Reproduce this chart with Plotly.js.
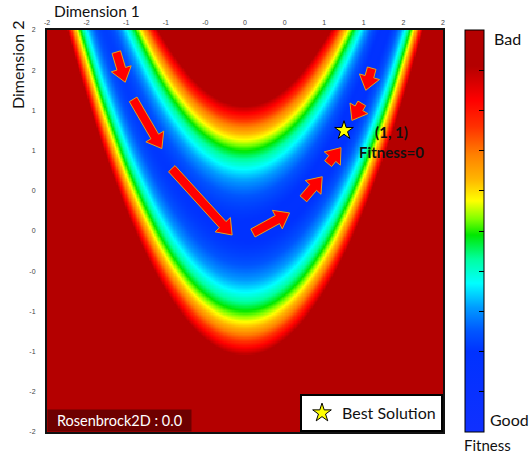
<!DOCTYPE html>
<html><head><meta charset="utf-8">
<script src="https://cdn.plot.ly/plotly-3.0.1.min.js"></script>
<style>html,body{margin:0;padding:0;background:#fff;} #chart{width:529px;height:454px;}</style>
</head><body><div id="chart"></div>
<script>
// Axis ticks (values and their printed labels, as shown in the picture)
const tickVals = [-2, -1.6, -1.2, -0.8, -0.4, 0, 0.4, 0.8, 1.2, 1.6, 2];
const tickLabels = ['-2', '-2', '-1', '-1', '-0', '0', '0', '1', '1', '2', '2'];

// Best solution marker
const bestX = [1];
const bestY = [1];
const bestName = 'Best Solution';

// Search-path arrows (tail -> tip), in data units
const arrowTailX = [-1.30, -1.13, -0.74, 0.08, 0.59, 0.84, 1.28, 1.18];
const arrowTailY = [1.78, 1.31, 0.62, -0.02, 0.32, 0.67, 1.62, 1.27];
const arrowTipX  = [-1.21, -0.84, -0.13, 0.45, 0.78, 0.97, 1.22, 1.08];
const arrowTipY  = [1.48, 0.82, -0.04, 0.18, 0.54, 0.83, 1.40, 1.10];

// Fitness landscape: Rosenbrock 2D, f(x,y) = (1-x)^2 + 100 (y-x^2)^2, on the plotted square
const gridX = [];
const gridY = [];
const gridN = 300;
for (let i = 0; i <= gridN; i++) { gridX.push(-2 + 4 * i / gridN); gridY.push(-2 + 4 * i / gridN); }
const fitness = gridY.map(y => gridX.map(x => (1 - x) * (1 - x) + 100 * (y - x * x) * (y - x * x)));

const zMin = -41, zMax = 174;
const colorScale = [
  [0.00, '#1030FF'], [0.20, '#0032FF'], [0.25, '#0055FF'], [0.31, '#009CFF'],
  [0.37, '#00FFFF'], [0.43, '#00FFA0'], [0.49, '#00E800'], [0.53, '#80FF00'],
  [0.575, '#FFFF00'], [0.63, '#FFB400'], [0.69, '#FF8000'], [0.76, '#FF3000'],
  [0.825, '#FF0000'], [0.91, '#B40000'], [1.00, '#B40000']
];
const cbTickFrac = [0.1, 0.2, 0.3, 0.4, 0.5, 0.6, 0.7, 0.8, 0.9];

const traces = [];
traces.push({
  type: 'heatmap', x: gridX, y: gridY, z: fitness,
  zmin: zMin, zmax: zMax, colorscale: colorScale, zsmooth: false,
  hoverinfo: 'skip',
  colorbar: {
    x: 1.0556, xanchor: 'left', xpad: 0, ypad: 0, y: 0.5, yanchor: 'middle',
    len: 1, thickness: 19, outlinewidth: 1, outlinecolor: '#000',
    tickmode: 'array', tickvals: cbTickFrac.map(f => zMin + f * (zMax - zMin)),
    ticks: 'inside', ticklen: 5, tickwidth: 1, tickcolor: '#000', showticklabels: false
  }
});

// arrow geometry (style)
const shaftHalf = 0.045, headHalf = 0.105, headLen = 0.14;
for (let k = 0; k < arrowTailX.length; k++) {
  const x0 = arrowTailX[k], y0 = arrowTailY[k], x1 = arrowTipX[k], y1 = arrowTipY[k];
  const dx = x1 - x0, dy = y1 - y0, L = Math.hypot(dx, dy);
  const ux = dx / L, uy = dy / L, px = -uy, py = ux;
  const nx = x1 - ux * headLen, ny = y1 - uy * headLen;
  const xs = [x0 + px * shaftHalf, nx + px * shaftHalf, nx + px * headHalf, x1,
              nx - px * headHalf, nx - px * shaftHalf, x0 - px * shaftHalf, x0 + px * shaftHalf];
  const ys = [y0 + py * shaftHalf, ny + py * shaftHalf, ny + py * headHalf, y1,
              ny - py * headHalf, ny - py * shaftHalf, y0 - py * shaftHalf, y0 + py * shaftHalf];
  traces.push({type: 'scatter', mode: 'lines', x: xs, y: ys, fill: 'toself',
    fillcolor: '#FF0000', line: {color: '#E3A21A', width: 1}, showlegend: false, hoverinfo: 'skip'});
}

traces.push({
  type: 'scatter', mode: 'markers', x: bestX, y: bestY, name: bestName,
  marker: {symbol: 'star', size: 14, color: '#FFFF00', line: {color: '#000', width: 1}},
  showlegend: true
});

const F = 'Lato, "Open Sans", sans-serif';
const axisCommon = {
  range: [-2, 2], tickmode: 'array', tickvals: tickVals, ticktext: tickLabels,
  tickfont: {family: 'Liberation Sans, Arial, sans-serif', size: 7, color: '#444'},
  showgrid: false, zeroline: false, showline: true, linecolor: '#111', linewidth: 2, mirror: true
};

const layout = {
  width: 529, height: 454,
  margin: {l: 47, r: 86, t: 30, b: 22},
  paper_bgcolor: '#fff', plot_bgcolor: '#fff',
  font: {family: F, color: '#111'},
  xaxis: Object.assign({}, axisCommon, {side: 'top', ticks: ''}),
  yaxis: Object.assign({}, axisCommon, {ticks: 'outside', tickcolor: 'rgba(0,0,0,0)', ticklen: 8}),
  showlegend: true,
  legend: {x: 1, xanchor: 'right', y: 0, yanchor: 'bottom', bgcolor: '#fff',
    bordercolor: '#000', borderwidth: 2, font: {family: F, size: 16, color: '#111'}},
  shapes: cbTickFrac.map(f => ({type: 'line', xref: 'paper', yref: 'paper',
    x0: 1.0556, x1: 1.0556 + 5 / 396, y0: f, y1: f, line: {color: '#000', width: 1}})),
  annotations: [
    {text: 'Dimension 1', xref: 'paper', yref: 'paper', x: 0.0126, y: 1.047, xanchor: 'left', yanchor: 'middle',
     showarrow: false, font: {family: F, size: 15.5, color: '#111'}},
    {text: 'Dimension 2', xref: 'paper', yref: 'paper', x: -0.073, y: 0.913, xanchor: 'center', yanchor: 'middle',
     textangle: -90, showarrow: false, font: {family: F, size: 16, color: '#111'}},
    {text: 'Bad', xref: 'paper', yref: 'paper', x: 1.1237, y: 0.98, xanchor: 'left', yanchor: 'middle',
     showarrow: false, font: {family: F, size: 16, color: '#111'}},
    {text: 'Good', xref: 'paper', yref: 'paper', x: 1.1136, y: 0.032, xanchor: 'left', yanchor: 'middle',
     showarrow: false, font: {family: F, size: 16, color: '#111'}},
    {text: 'Fitness', xref: 'paper', yref: 'paper', x: 1.048, y: -0.032, xanchor: 'left', yanchor: 'middle',
     showarrow: false, font: {family: F, size: 15, color: '#111'}},
    {text: '<b>(1, 1)</b><br><b>Fitness=0</b>', xref: 'paper', yref: 'paper', x: 0.871, y: 0.7226,
     xanchor: 'center', yanchor: 'middle', showarrow: false, font: {family: F, size: 15, color: '#111'}},
    {text: 'Rosenbrock2D : 0.0', xref: 'paper', yref: 'paper', x: 0, y: 0, xanchor: 'left', yanchor: 'bottom',
     showarrow: false, bgcolor: '#6E0000', borderpad: 2, width: 139,
     font: {family: F, size: 14.5, color: '#fff'}}
  ]
};

Plotly.newPlot('chart', traces, layout, {displayModeBar: false, staticPlot: true});
</script>
</body></html>
